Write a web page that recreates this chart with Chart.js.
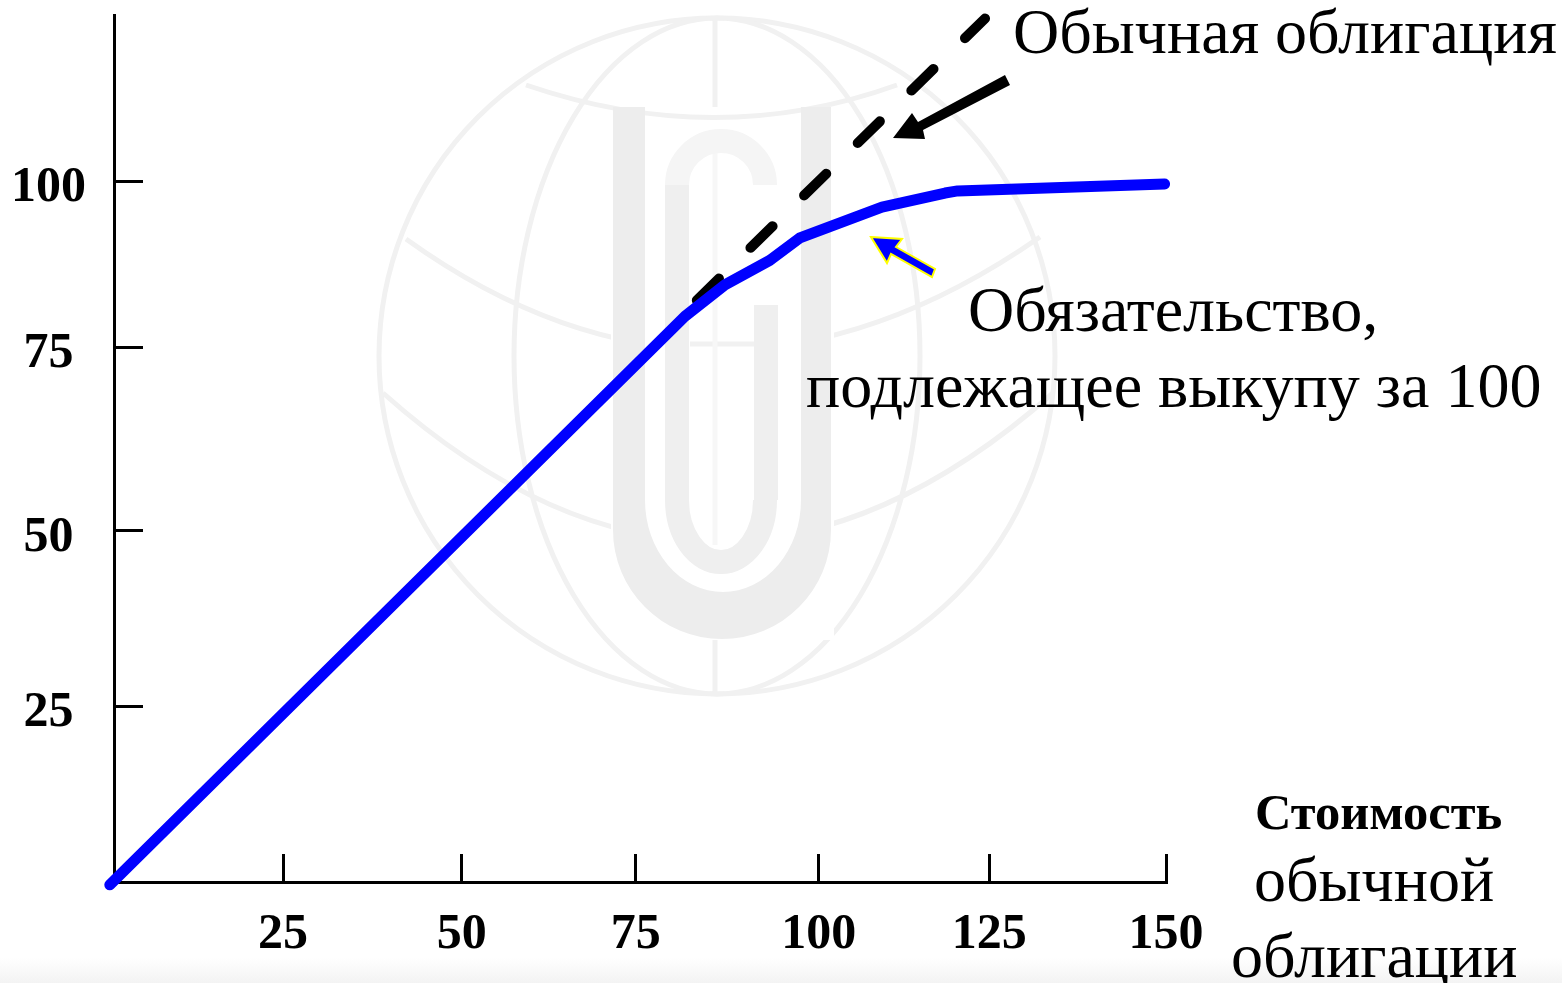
<!DOCTYPE html>
<html lang="ru">
<head>
<meta charset="utf-8">
<title>Обязательство, подлежащее выкупу за 100</title>
<script src="https://cdn.jsdelivr.net/npm/chart.js@4/dist/chart.umd.min.js"></script>
<style>
    html, body { margin: 0; padding: 0; height: 983px; overflow: hidden; }
    body { background: linear-gradient(#fff 958px, #f3f3f3 983px); }
    canvas { display: block; }
</style>
</head>
<body>
<canvas id="chart" width="1562" height="983"></canvas>
<script>
// Значения
const obligationX = [-0.6, 81.4, 87.1, 93.5, 97.8, 109.5, 118.5, 120.3, 149.8];
const obligationY = [-0.4, 80.7, 85.2, 88.7, 91.9, 96.3, 98.3, 98.6, 99.6];
const bondX = [83.1, 124.2];
const bondY = [83.0, 123.2];

// Риски на оригинале расставлены от руки, поэтому стоят не точно на круглых значениях
const xTickAt = [24.1, 49.6, 74.4, 100.5, 124.8, 150];
const xTickLabels = ['25', '50', '75', '100', '125', '150'];
const yTickAt = [25.1, 50.1, 76.3, 100];
const yTickLabels = ['25', '50', '75', '100'];

const SERIF = '"Liberation Serif", serif';

const toPoints = (xs, ys) => xs.map((x, i) => ({ x: x, y: ys[i] }));

// Водяной знак: глобус и буква U
const watermark = {
    id: 'watermark',
    beforeDraw(chart) {
        const ctx = chart.ctx;
        const cx = 717, cy = 356;
        ctx.save();
        ctx.strokeStyle = '#f1f1f1';
        ctx.lineWidth = 5;
        ctx.beginPath();
        ctx.arc(cx, cy, 338, 0, Math.PI * 2);
        ctx.stroke();
        ctx.beginPath();
        ctx.moveTo(526, 85);
        ctx.quadraticCurveTo(716, 150, 897, 85);
        ctx.moveTo(cx - 2, 19);
        ctx.lineTo(cx - 2, 107);
        ctx.moveTo(cx - 2, 640);
        ctx.lineTo(cx - 2, 694);
        ctx.moveTo(690, 344);
        ctx.lineTo(755, 344);
        ctx.stroke();

        // Параллели и меридианы прячутся за ножками буквы
        ctx.save();
        ctx.beginPath();
        ctx.rect(0, 0, 1562, 983);
        ctx.rect(611, 107, 223, 533);
        ctx.clip('evenodd');
        ctx.beginPath();
        ctx.ellipse(cx, cy, 203, 338, 0, 0, Math.PI * 2);
        ctx.moveTo(406, 239);
        ctx.quadraticCurveTo(716, 462, 1040, 237);
        ctx.moveTo(383, 393);
        ctx.quadraticCurveTo(716, 690, 1053, 393);
        ctx.stroke();
        ctx.restore();

        ctx.strokeStyle = '#f7f7f7';
        ctx.beginPath();
        ctx.moveTo(cx - 2, 135);
        ctx.lineTo(cx - 2, 545);
        ctx.stroke();

        ctx.fillStyle = '#ededed';
        ctx.beginPath();
        ctx.moveTo(613, 107);
        ctx.lineTo(613, 530);
        ctx.arc(722, 530, 109, Math.PI, 0, true);
        ctx.lineTo(831, 107);
        ctx.lineTo(801, 107);
        ctx.lineTo(801, 500);
        ctx.ellipse(723, 500, 78, 92, 0, 0, Math.PI);
        ctx.lineTo(645, 107);
        ctx.closePath();
        ctx.fill();

        ctx.lineWidth = 24;
        ctx.strokeStyle = '#efefef';
        ctx.beginPath();
        ctx.moveTo(766, 500);
        ctx.lineTo(766, 305);
        ctx.moveTo(677, 500);
        ctx.lineTo(677, 185);
        ctx.moveTo(677, 500);
        ctx.ellipse(721, 500, 44, 62, 0, Math.PI, 0, true);
        ctx.stroke();

        ctx.strokeStyle = '#f5f5f5';
        ctx.beginPath();
        ctx.moveTo(677, 185);
        ctx.arc(721, 185, 44, Math.PI, 0);
        ctx.stroke();
        ctx.restore();
    }
};

// Подпись рисок оси Y на оригинале чуть ниже самих рисок
const labelShift = {
    id: 'labelShift',
    beforeDraw(chart) {
        chart.scales.y.getLabelItems().forEach(item => { item.textOffset = 7; });
    }
};

function drawArrow(ctx, pts, fill, stroke) {
    ctx.beginPath();
    pts.forEach((p, i) => (i ? ctx.lineTo(p[0], p[1]) : ctx.moveTo(p[0], p[1])));
    ctx.closePath();
    ctx.fillStyle = fill;
    ctx.fill();
    if (stroke) {
        ctx.strokeStyle = stroke;
        ctx.lineWidth = 2;
        ctx.stroke();
    }
}

// Стрелки и подписи
const annotations = {
    id: 'annotations',
    afterDraw(chart) {
        const ctx = chart.ctx;
        ctx.save();
        drawArrow(ctx, [[893, 138], [912, 113], [918, 122], [1005, 75], [1010, 85], [923, 130], [925, 139]], '#000');
        drawArrow(ctx, [[871, 237], [902, 239], [896, 247], [935, 269], [932, 277], [891, 254], [887, 263]], '#0000ff', '#ffff00');

        ctx.fillStyle = '#000';
        ctx.textBaseline = 'alphabetic';
        ctx.textAlign = 'left';
        ctx.font = '64px ' + SERIF;
        ctx.fillText('Обычная облигация', 1013, 53);
        ctx.fillText('Обязательство,', 968, 331);
        ctx.fillText('подлежащее выкупу за 100', 806, 407);
        ctx.fillText('обычной', 1254, 901);
        ctx.fillText('облигации', 1231, 977);
        ctx.font = 'bold 50.5px ' + SERIF;
        ctx.fillText('Стоимость', 1255, 829);
        ctx.restore();
    }
};

new Chart(document.getElementById('chart'), {
    type: 'scatter',
    data: {
        datasets: [{
            label: 'Обязательство, подлежащее выкупу за 100',
            data: toPoints(obligationX, obligationY),
            showLine: true,
            borderColor: '#0000ff',
            borderWidth: 11,
            borderCapStyle: 'round',
            borderJoinStyle: 'round',
            pointRadius: 0,
            clip: false,
            order: 1
        }, {
            label: 'Обычная облигация',
            data: toPoints(bondX, bondY),
            showLine: true,
            borderColor: '#000',
            borderWidth: 10,
            borderCapStyle: 'round',
            borderDash: [31, 44],
            pointRadius: 0,
            clip: false,
            order: 2
        }]
    },
    options: {
        responsive: false,
        animation: false,
        layout: { padding: { top: 15, right: 396, left: 0, bottom: 0 } },
        plugins: { legend: { display: false }, tooltip: { enabled: false } },
        scales: {
            x: {
                type: 'linear',
                min: 0,
                max: 150,
                afterFit: scale => { scale.height = 101; scale.paddingLeft = 0; scale.paddingRight = 0; },
                afterBuildTicks: scale => { scale.ticks = xTickAt.map(value => ({ value })); },
                border: { color: '#000', width: 3 },
                grid: { drawOnChartArea: false, tickLength: -28, tickWidth: 3, tickColor: '#000' },
                ticks: {
                    color: '#000',
                    font: { family: SERIF, size: 50, weight: 'bold' },
                    padding: 51,
                    maxRotation: 0,
                    autoSkip: false,
                    callback: (value, i) => xTickLabels[i]
                }
            },
            y: {
                min: 0,
                max: 123.7,
                afterFit: scale => { scale.width = 114; scale.paddingTop = 0; scale.paddingBottom = 0; },
                afterBuildTicks: scale => { scale.ticks = yTickAt.map(value => ({ value })); },
                border: { color: '#000', width: 3 },
                grid: { drawOnChartArea: false, tickLength: -29, tickWidth: 3, tickColor: '#000' },
                ticks: {
                    color: '#000',
                    font: { family: SERIF, size: 50, weight: 'bold' },
                    padding: 57,
                    crossAlign: 'center',
                    autoSkip: false,
                    callback: (value, i) => yTickLabels[i]
                }
            }
        }
    },
    plugins: [watermark, labelShift, annotations]
});
</script>
</body>
</html>
